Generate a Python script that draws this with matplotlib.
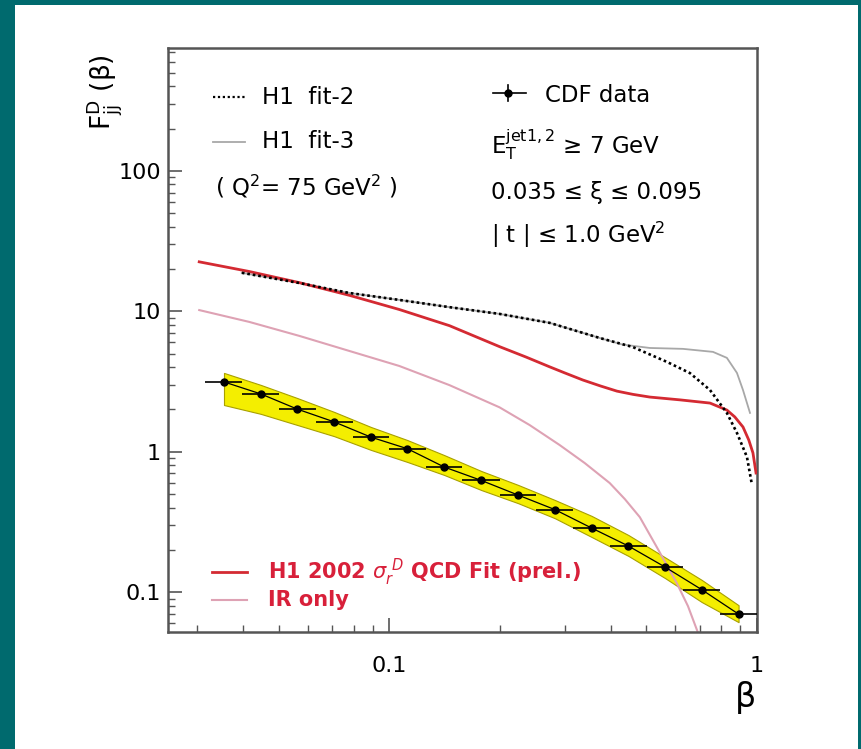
import numpy as np
import matplotlib.pyplot as plt
from matplotlib.patches import Rectangle
from matplotlib.lines import Line2D

plt.rcParams['font.family'] = ['DejaVu Sans']
plt.rcParams['mathtext.fontset'] = 'dejavusans'

# CDF data points (beta bins)
beta = [0.0355, 0.0447, 0.0562, 0.0708, 0.0891, 0.112, 0.141, 0.178, 0.224,
        0.282, 0.355, 0.447, 0.562, 0.708, 0.891]
beta_lo = [0.0316, 0.0398, 0.0501, 0.0631, 0.0794, 0.1, 0.126, 0.158, 0.2,
           0.251, 0.316, 0.398, 0.501, 0.631, 0.794]
beta_hi = [0.0398, 0.0501, 0.0631, 0.0794, 0.1, 0.126, 0.158, 0.2, 0.251,
           0.316, 0.398, 0.501, 0.631, 0.794, 1.05]
cdf = [3.14, 2.58, 2.01, 1.63, 1.27, 1.05, 0.778, 0.624, 0.491, 0.387,
       0.286, 0.213, 0.151, 0.104, 0.0697]
cdf_err = [0.12, 0.09, 0.07, 0.06, 0.05, 0.04, 0.03, 0.025, 0.02, 0.016,
           0.012, 0.009, 0.007, 0.005, 0.004]
# systematic band
band_up = [3.64, 2.99, 2.41, 1.92, 1.50, 1.21, 0.946, 0.728, 0.580, 0.453,
           0.349, 0.255, 0.177, 0.122, 0.0807]
band_dn = [2.15, 1.86, 1.55, 1.29, 1.03, 0.845, 0.683, 0.533, 0.430, 0.336,
           0.247, 0.181, 0.126, 0.0849, 0.0611]

# H1 2002 QCD fit (red)
qcd_b = [0.0304, 0.0416, 0.0569, 0.0778, 0.1064, 0.1457, 0.1994, 0.235,
         0.273, 0.30, 0.336, 0.375, 0.416, 0.46, 0.511, 0.617, 0.745, 0.828,
         0.87, 0.916, 0.95, 0.975, 0.994]
qcd_f = [22.5, 19.2, 16.0, 13.0, 10.3, 7.9, 5.6, 4.73, 4.02, 3.64, 3.24,
         2.94, 2.70, 2.56, 2.45, 2.34, 2.22, 1.98, 1.77, 1.50, 1.21, 0.98,
         0.705]
# H1 fit-2 (dotted black)
fit2_b = [0.0397, 0.0569, 0.0778, 0.1064, 0.1457, 0.1994, 0.273, 0.373,
          0.459, 0.569, 0.657, 0.745, 0.828, 0.882, 0.939, 0.969]
fit2_f = [18.8, 15.9, 13.5, 12.05, 10.7, 9.58, 8.27, 6.46, 5.57, 4.36,
          3.63, 2.75, 1.89, 1.36, 0.917, 0.58]
# H1 fit-3 (grey)
fit3_b = [0.0397, 0.0569, 0.0778, 0.1064, 0.1457, 0.1994, 0.273, 0.373,
          0.43, 0.511, 0.629, 0.759, 0.828, 0.882, 0.916, 0.957]
fit3_f = [18.8, 15.9, 13.5, 12.05, 10.7, 9.58, 8.27, 6.46, 5.80, 5.48,
          5.40, 5.14, 4.66, 3.64, 2.75, 1.89]
# IR only (pink)
ir_b = [0.0304, 0.0416, 0.0569, 0.0778, 0.1064, 0.1457, 0.1994, 0.2406,
        0.2905, 0.340, 0.3976, 0.437, 0.480, 0.534, 0.569, 0.605, 0.649,
        0.690]
ir_f = [10.2, 8.40, 6.68, 5.22, 4.08, 2.98, 2.07, 1.55, 1.116, 0.830,
        0.598, 0.460, 0.342, 0.209, 0.155, 0.116, 0.0795, 0.0519]

W, H = 861, 749
fig = plt.figure(figsize=(W / 100, H / 100), dpi=100)
fig.patch.set_facecolor('#006a6e')
fig.patches.append(Rectangle((15 / W, 0), (858 - 15) / W, (749 - 5) / H,
                             transform=fig.transFigure, facecolor='white',
                             edgecolor='none', zorder=-5))


def fx(px):
    return px / W


def fy(py):
    return 1 - py / H


ax = fig.add_axes([fx(168), fy(632), (757 - 168) / W, (632 - 48) / H])
ax.set_zorder(1)
ax.patch.set_alpha(0)
ax.set_xscale('log')
ax.set_yscale('log')
ax.set_xlim(0.025, 1.0)
ax.set_ylim(0.052, 750)

red = '#d42a32'
pink = '#dea2b4'

ax.fill_between(beta, band_dn, band_up, facecolor='#f4ee00',
                edgecolor='#a8a000', lw=0.8, zorder=2)
ax.plot(beta, cdf, color='black', lw=0.9, zorder=3)
xerr = [np.array(beta) - np.array(beta_lo), np.array(beta_hi) - np.array(beta)]
ax.errorbar(beta, cdf, xerr=xerr, yerr=cdf_err, fmt='o', color='black',
            ms=5, elinewidth=1.2, capsize=0, zorder=4)

ax.plot(ir_b, ir_f, color=pink, lw=1.5, zorder=2)
ax.plot(fit3_b, fit3_f, color='#a8a8a8', lw=1.3, zorder=2)
ax.plot(qcd_b, qcd_f, color=red, lw=2.0, zorder=3)
ax.plot(fit2_b, fit2_f, color='black', lw=1.9, ls=(0, (1, 1.1)), zorder=3)

for s in ax.spines.values():
    s.set_color('#555555')
    s.set_linewidth(1.8)

ax.set_xticks([0.1, 1])
ax.set_xticklabels(['0.1', '1'])
ax.set_yticks([0.1, 1, 10, 100])
ax.set_yticklabels(['0.1', '1', '10', '100'])
ax.tick_params(which='both', direction='in', top=False, right=False,
               color='#555555', labelsize=16)
ax.tick_params(which='major', length=10, width=1.2, pad=5)
ax.tick_params(which='minor', length=5, width=1.0)
ax.tick_params(axis='x', which='major', pad=17)

# axis labels
fig.text(fx(746), fy(697), 'β', fontsize=24, ha='center', va='center')
fig.text(fx(104), fy(92), r'$\mathrm{F}^{\mathrm{D}}_{\mathrm{jj}}$ (β)',
         fontsize=19, rotation=90, ha='center', va='center')

# top-left legend
fig.lines.append(Line2D([fx(213), fx(245)], [fy(97), fy(97)], color='black',
                        lw=1.6, ls=(0, (1, 1.2)), transform=fig.transFigure))
fig.text(fx(262), fy(97), 'H1  fit-2', fontsize=16.5, va='center')
fig.lines.append(Line2D([fx(213), fx(245)], [fy(142), fy(142)],
                        color='#a8a8a8', lw=1.3, transform=fig.transFigure))
fig.text(fx(262), fy(142), 'H1  fit-3', fontsize=16.5, va='center')
fig.text(fx(215), fy(187), r'( Q$^{2}$= 75 GeV$^{2}$ )', fontsize=16.5,
         va='center')

# top-right labels
fig.lines.append(Line2D([fx(493), fx(526)], [fy(93), fy(93)], color='black',
                        lw=1.2, transform=fig.transFigure))
fig.lines.append(Line2D([fx(508), fx(508)], [fy(85), fy(101)], color='black',
                        lw=1.2, transform=fig.transFigure))
fig.lines.append(Line2D([fx(508)], [fy(93)], marker='o', ms=5, color='black',
                        transform=fig.transFigure))
fig.text(fx(545), fy(95), 'CDF data', fontsize=16.5, va='center')
fig.text(fx(491), fy(145), r'E$_{\mathrm{T}}^{\mathrm{jet1,2}}$ ≥ 7 GeV',
         fontsize=16.5, va='center')
fig.text(fx(491), fy(192), '0.035 ≤ ξ ≤ 0.095', fontsize=16.5, va='center')
fig.text(fx(491), fy(235), r'| t | ≤ 1.0 GeV$^{2}$', fontsize=16.5,
         va='center')

# bottom legend
fig.lines.append(Line2D([fx(212), fx(247)], [fy(572), fy(572)], color=red,
                        lw=2.0, transform=fig.transFigure))
fig.text(fx(268), fy(572), r'H1 2002 $\sigma_{r}^{\ D}$ QCD Fit (prel.)',
         fontsize=15, color='#d8203a', fontweight='bold', va='center')
fig.lines.append(Line2D([fx(212), fx(247)], [fy(600), fy(600)], color=pink,
                        lw=1.5, transform=fig.transFigure))
fig.text(fx(268), fy(600), 'IR only', fontsize=15, color='#d8203a',
         fontweight='bold', va='center')

fig.savefig('out.png', dpi=100, facecolor=fig.get_facecolor())
